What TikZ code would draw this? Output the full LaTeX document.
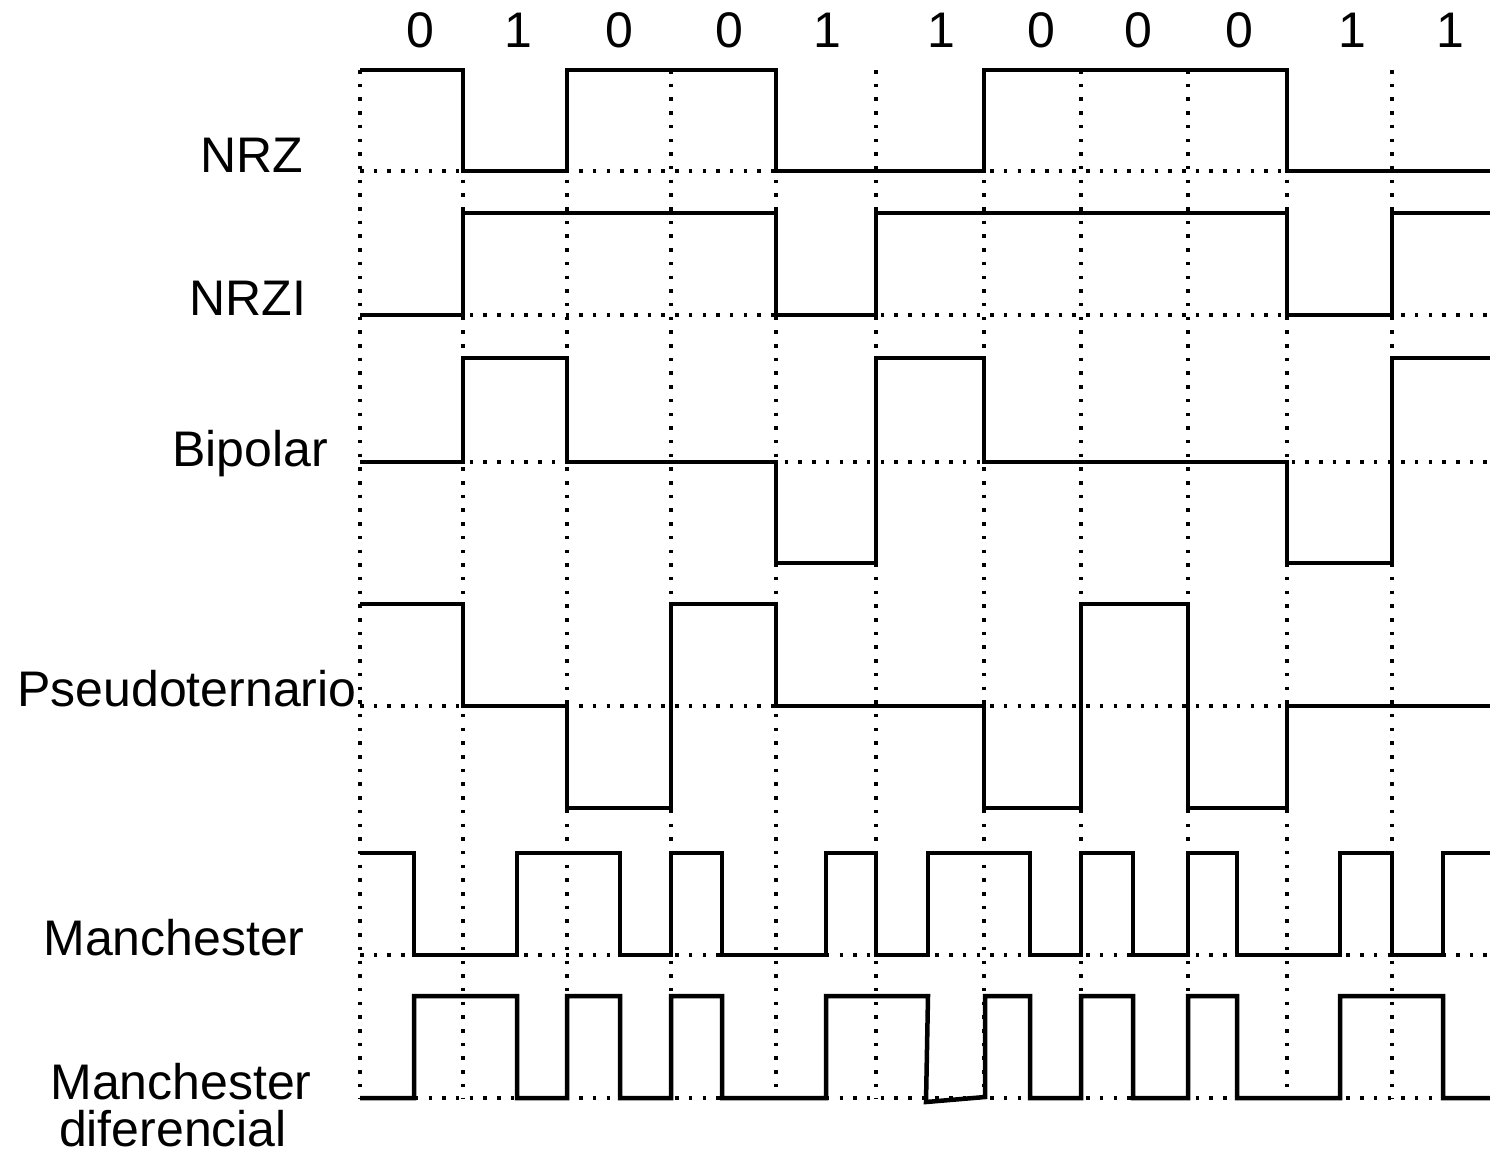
\documentclass[tikz,border=0pt]{standalone}
\usepackage{fontspec}
\setmainfont{Liberation Sans}
\begin{document}
\begin{tikzpicture}[x=1pt,y=-1pt,
  sig/.style={line width=4.5pt, line join=miter},
  gridline/.style={line width=3.5pt, dash pattern=on 3.5pt off 10.2pt},
  lab/.style={font=\fontsize{50}{50}\selectfont, inner sep=0pt, anchor=base}]
\useasboundingbox (0,0) rectangle (1490,1152);
% vertical dotted grid
\foreach \x in {360,463,567,671,776,876,984,1081,1188,1287,1392}
  \draw[gridline] (\x,70) -- (\x,1098);
% horizontal dotted baselines
\foreach \y in {171,315,462,706,955,1098}
  \draw[gridline] (360,\y) -- (1490,\y);
% bit labels
\node[lab] (b0) at (420,47) {0};
\node[lab] (b1) at (518,47) {1};
\node[lab] (b2) at (619,47) {0};
\node[lab] (b3) at (729,47) {0};
\node[lab] (b4) at (827,47) {1};
\node[lab] (b5) at (941,47) {1};
\node[lab] (b6) at (1041,47) {0};
\node[lab] (b7) at (1138,47) {0};
\node[lab] (b8) at (1239,47) {0};
\node[lab] (b9) at (1352,47) {1};
\node[lab] (b10) at (1450,47) {1};
% row labels
\node[lab] (lnrz) at (252,172) {NRZ};
\node[lab] (lnrzi) at (248,315) {NRZI};
\node[lab] (lbip) at (250,466) {Bipolar};
\node[lab] (lpseudo) at (187,706) {Pseudoternario};
\node[lab] (lman) at (174,955) {Manchester};
\node[lab] (ldif1) at (181,1099) {Manchester};
\node[lab, text depth=0pt] (ldif2) at (173,1146) {diferencial};
% NRZ
\draw[sig] (360,70) -- (463,70) -- (463,171) -- (567,171) -- (567,70) -- (776,70) -- (776,171) -- (984,171) -- (984,70) -- (1287,70) -- (1287,171) -- (1490,171);
% NRZI
\draw[sig] (360,315) -- (463,315) -- (463,213) -- (776,213) -- (776,315) -- (876,315) -- (876,213) -- (1287,213) -- (1287,315) -- (1392,315) -- (1392,213) -- (1490,213);
% Bipolar
\draw[sig] (360,462) -- (463,462) -- (463,358) -- (567,358) -- (567,462) -- (776,462) -- (776,563) -- (876,563) -- (876,358) -- (984,358) -- (984,462) -- (1287,462) -- (1287,563) -- (1392,563) -- (1392,358) -- (1490,358);
% Pseudoternario
\draw[sig] (360,604) -- (463,604) -- (463,706) -- (567,706) -- (567,808) -- (671,808) -- (671,604) -- (776,604) -- (776,706) -- (984,706) -- (984,808) -- (1081,808) -- (1081,604) -- (1188,604) -- (1188,808) -- (1287,808) -- (1287,706) -- (1490,706);
% Manchester
\draw[sig] (360,853) -- (414,853) -- (414,955) -- (517,955) -- (517,853) -- (620,853) -- (620,955) -- (671,955) -- (671,853) -- (722,853) -- (722,955) -- (826,955) -- (826,853) -- (876,853) -- (876,955) -- (928,955) -- (928,853) -- (1030,853) -- (1030,955) -- (1081,955) -- (1081,853) -- (1133,853) -- (1133,955) -- (1188,955) -- (1188,853) -- (1237,853) -- (1237,955) -- (1340,955) -- (1340,853) -- (1392,853) -- (1392,955) -- (1443,955) -- (1443,853) -- (1490,853);
% Manchester diferencial
\draw[sig] (360,1098) -- (414,1098) -- (414,996) -- (517,996) -- (517,1098) -- (567,1098) -- (567,996) -- (620,996) -- (620,1098) -- (671,1098) -- (671,996) -- (722,996) -- (722,1098) -- (826,1098) -- (826,996) -- (928,996) -- (926,1102) -- (985,1097) -- (985,996) -- (1030,996) -- (1030,1098) -- (1081,1098) -- (1081,996) -- (1133,996) -- (1133,1098) -- (1188,1098) -- (1188,996) -- (1237,996) -- (1237,1098) -- (1340,1098) -- (1340,996) -- (1443,996) -- (1443,1098) -- (1490,1098);
\end{tikzpicture}
\end{document}
